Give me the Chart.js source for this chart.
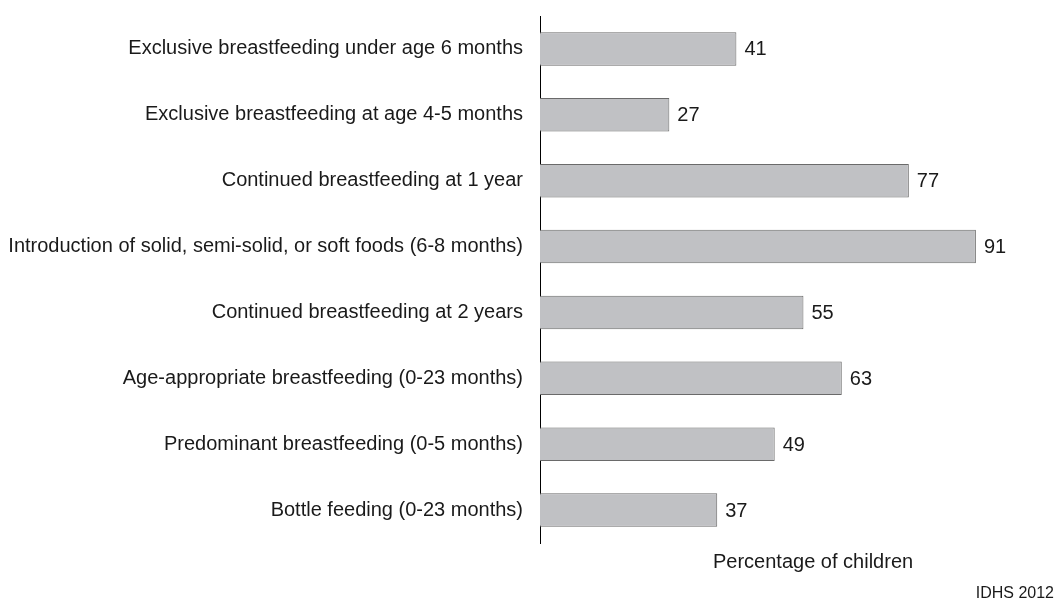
<!DOCTYPE html>
<html lang="en">
<head>
    <meta charset="UTF-8">
    <title>Breastfeeding indicators</title>
    <script src="https://cdn.jsdelivr.net/npm/chart.js@4.4.1/dist/chart.umd.min.js"></script>
    <style>
        html, body { margin: 0; padding: 0; background: #fff; }
        #wrap { width: 1055px; height: 601px; position: relative; }
    </style>
</head>
<body>
    <div id="wrap"><canvas id="bf"></canvas></div>

    <script>
        const categories = [
            'Exclusive breastfeeding under age 6 months',
            'Exclusive breastfeeding at age 4-5 months',
            'Continued breastfeeding at 1 year',
            'Introduction of solid, semi-solid, or soft foods (6-8 months)',
            'Continued breastfeeding at 2 years',
            'Age-appropriate breastfeeding (0-23 months)',
            'Predominant breastfeeding (0-5 months)',
            'Bottle feeding (0-23 months)'
        ];
        const values = [41, 27, 77, 91, 55, 63, 49, 37];
        const axisTitle = 'Percentage of children';
        const sourceNote = 'IDHS 2012';

        const FONT = '"Liberation Sans", Arial, sans-serif';

        // value labels to the right of each bar + axis title + source
        const extras = {
            id: 'extras',
            afterDatasetsDraw(chart) {
                const ctx = chart.ctx;
                const meta = chart.getDatasetMeta(0);
                ctx.save();
                ctx.font = '20px ' + FONT;
                ctx.fillStyle = '#1a1a1a';
                ctx.textBaseline = 'middle';
                ctx.textAlign = 'left';
                meta.data.forEach((bar, i) => {
                    ctx.fillText(values[i], bar.x + 8, bar.y + 1);
                });
                ctx.fillText(axisTitle, 713, 562);
                ctx.font = '16px ' + FONT;
                ctx.textAlign = 'right';
                ctx.fillText(sourceNote, 1054, 594);
                ctx.restore();
            }
        };

        const ctx = document.getElementById('bf').getContext('2d');
        const chart = new Chart(ctx, {
            type: 'bar',
            data: {
                labels: categories,
                datasets: [{
                    data: values,
                    backgroundColor: '#c0c1c4',
                    borderColor: '#6a6a6a',
                    borderWidth: 1,
                    borderSkipped: 'left',
                    barPercentage: 0.51,
                    categoryPercentage: 1.0
                }]
            },
            options: {
                indexAxis: 'y',
                responsive: true,
                maintainAspectRatio: false,
                animation: false,
                layout: { padding: { left: 0, right: 36, top: 16, bottom: 58 } },
                plugins: {
                    legend: { display: false },
                    tooltip: { enabled: false }
                },
                scales: {
                    x: {
                        display: false,
                        min: 0,
                        max: 100
                    },
                    y: {
                        grid: { display: false, drawTicks: false },
                        border: { display: true, color: '#000', width: 1 },
                        ticks: {
                            color: '#1a1a1a',
                            font: { family: FONT, size: 20 },
                            padding: 17
                        },
                        afterFit(scale) {
                            scale.width = 540;
                            scale.paddingTop = 0;
                            scale.paddingBottom = 0;
                        }
                    }
                }
            },
            plugins: [extras]
        });
    </script>
</body>
</html>
